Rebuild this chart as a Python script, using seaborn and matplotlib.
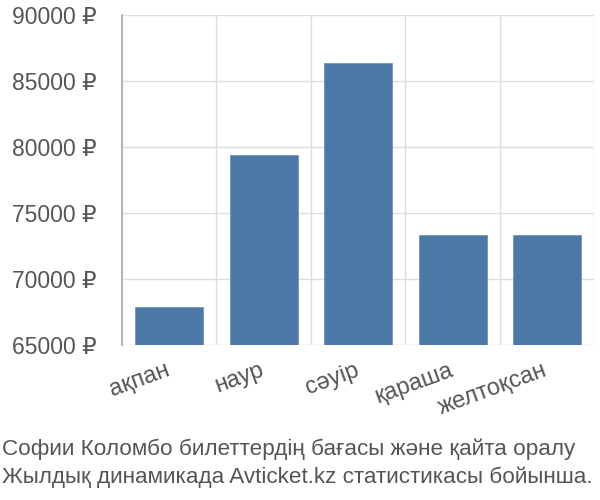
import matplotlib
matplotlib.use("Agg")
import matplotlib.pyplot as plt
import matplotlib.transforms as mtransforms
import seaborn as sns
import pandas as pd
import numpy as np

months = ["ақпан", "наур", "сәуір", "қараша", "желтоқсан"]
prices = [67850, 79400, 86400, 73300, 73300]
yticks = [65000, 70000, 75000, 80000, 85000, 90000]
caption = ["Софии Коломбо билеттердің бағасы және қайта оралу",
           "Жылдық динамикада Avticket.kz статистикасы бойынша."]

sns.set_style("white")
plt.rcParams['font.family'] = ['Liberation Sans', 'DejaVu Sans']

df = pd.DataFrame({"month": months, "price": prices})

fig = plt.figure(figsize=(6, 5), dpi=100)
ax = fig.add_axes([0.2033, 0.31, 0.787, 0.66])

sns.barplot(data=df, x="month", y="price", color="#4c78a8", width=0.72,
            saturation=1, ax=ax, zorder=3, edgecolor="#7094c0", linewidth=0.6)

ax.set_ylim(65000, 90000)
ax.set_xlim(-0.5, len(months) - 0.5)
ax.set_yticks(yticks)
ax.set_yticklabels([f"{v} ₽" for v in yticks])
ax.set_xlabel("")
ax.set_ylabel("")

# category boundaries for vertical grid
ax.set_xticks(np.arange(len(months) + 1) - 0.5, minor=True)
ax.grid(True, axis="y", color="#dddddd", linewidth=1, zorder=0)
ax.grid(True, axis="x", which="minor", color="#dddddd", linewidth=1, zorder=0)
ax.tick_params(axis="x", which="minor", length=13, color="#dddddd", width=1)
ax.tick_params(axis="x", which="major", length=0, pad=10, labelsize=17,
               labelcolor="#555555")
ax.tick_params(axis="y", length=16, color="#dddddd", width=1, pad=2,
               labelsize=16.5, labelcolor="#555555")
shift = mtransforms.ScaledTranslation(-4 / 100, 0, fig.dpi_scale_trans)
for lbl in ax.get_xticklabels():
    lbl.set_rotation(20)
    lbl.set_ha("right")
    lbl.set_va("top")
    lbl.set_rotation_mode("anchor")
    lbl.set_transform(lbl.get_transform() + shift)

for s in ["top", "right", "bottom"]:
    ax.spines[s].set_visible(False)
ax.spines["left"].set_color("#aaaaaa")
ax.spines["left"].set_linewidth(1.2)

fig.text(0.003, 0.09, caption[0], fontsize=16.2, color="#555555", va="baseline")
fig.text(0.003, 0.034, caption[1], fontsize=16.2, color="#555555", va="baseline")

fig.savefig("out.png", dpi=100)
